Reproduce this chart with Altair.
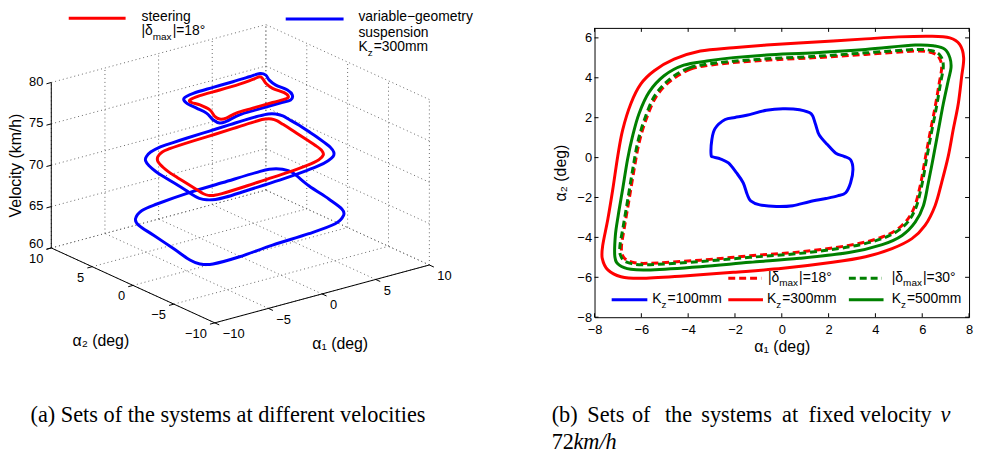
import altair as alt
import pandas as pd

FONT = "Liberation Sans"
SERIF = "Liberation Serif"
RED, BLUE, GREEN = "#ff0000", "#0000ff", "#008000"

# ---------------- values: (alpha1, alpha2) in deg ----------------
# (b) fixed velocity v = 72 km/h
KZ100 = [(-3.02, 0.14), (-2.99, 0.88), (-2.85, 1.46), (-2.42, 1.91), (-2.0, 2.01), (-1.5, 2.12),
         (-0.66, 2.37), (0.05, 2.45), (0.76, 2.4), (1.25, 2.2), (1.43, 1.71), (1.6, 1.13),
         (1.96, 0.64), (2.31, 0.22), (2.66, 0.06), (2.94, -0.11), (3.04, -0.6), (2.94, -1.26),
         (2.73, -1.76), (2.38, -1.92), (1.89, -2.05), (1.18, -2.21), (0.47, -2.41), (-0.23, -2.45),
         (-0.94, -2.37), (-1.33, -2.17), (-1.48, -1.84), (-1.65, -1.26), (-1.93, -0.77),
         (-2.28, -0.27), (-2.63, -0.06), (-2.92, 0.03)]
KZ300 = [(-3.48, 5.34), (-4.6, 4.93), (-5.45, 4.35), (-6.02, 3.69), (-6.45, 2.7), (-6.8, 1.38),
         (-7.01, 0.06), (-7.22, -1.59), (-7.43, -3.08), (-7.65, -4.4), (-7.67, -5.05), (-7.43, -5.63),
         (-6.87, -5.97), (-6.02, -6.05), (-4.19, -5.93), (-2.07, -5.75), (0.05, -5.55), (2.17, -5.25),
         (3.58, -4.97), (4.71, -4.56), (5.56, -4.06), (6.12, -3.4), (6.55, -2.41), (6.83, -1.25),
         (7.11, 0.06), (7.32, 1.38), (7.54, 2.7), (7.68, 4.02), (7.77, 5.0), (7.6, 5.67), (7.18, 6.0),
         (6.4, 6.08), (4.99, 6.05), (3.58, 5.95), (1.46, 5.79), (-0.66, 5.64), (-2.07, 5.51)]
KZ500 = [(-3.2, 4.84), (-4.19, 4.63), (-5.03, 4.1), (-5.67, 3.28), (-6.1, 2.2), (-6.38, 1.05),
         (-6.59, -0.1), (-6.8, -1.59), (-6.99, -2.91), (-7.11, -3.9), (-7.13, -4.98), (-6.94, -5.39),
         (-6.45, -5.6), (-5.6, -5.63), (-3.48, -5.47), (-1.36, -5.25), (0.76, -5.05), (2.87, -4.76),
         (4.29, -4.36), (5.14, -3.9), (5.7, -3.24), (6.05, -2.41), (6.26, -1.26), (6.48, 0.06),
         (6.69, 1.38), (6.9, 2.7), (7.11, 3.85), (7.23, 4.51), (7.18, 5.01), (6.97, 5.42), (6.55, 5.59),
         (5.7, 5.64), (3.58, 5.42), (1.46, 5.26), (-0.66, 5.14), (-2.07, 5.01)]
D18 = [(-3.06, 4.63), (-3.9, 4.43), (-4.75, 3.85), (-5.38, 3.03), (-5.81, 1.87), (-6.1, 0.72),
       (-6.31, -0.6), (-6.52, -2.08), (-6.71, -3.4), (-6.85, -4.47), (-6.77, -4.97), (-6.45, -5.22),
       (-5.74, -5.3), (-3.48, -5.14), (-1.36, -4.92), (0.76, -4.73), (2.87, -4.4), (4.29, -3.98),
       (5.14, -3.4), (5.63, -2.58), (5.91, -1.43), (6.12, -0.1), (6.33, 1.22), (6.55, 2.53),
       (6.72, 3.69), (6.83, 4.51), (6.72, 5.01), (6.4, 5.26), (5.7, 5.34), (3.58, 5.17), (1.46, 5.01),
       (-0.66, 4.88), (-2.07, 4.76)]
D30 = [(-3.08, 4.7), (-3.95, 4.5), (-4.8, 3.92), (-5.44, 3.08), (-5.87, 1.9), (-6.16, 0.74),
       (-6.37, -0.6), (-6.58, -2.1), (-6.77, -3.42), (-6.92, -4.5), (-6.84, -5.03), (-6.5, -5.29),
       (-5.76, -5.37), (-3.5, -5.21), (-1.36, -5.0), (0.78, -4.8), (2.9, -4.47), (4.33, -4.04),
       (5.2, -3.45), (5.69, -2.62), (5.97, -1.45), (6.18, -0.1), (6.39, 1.23), (6.61, 2.55),
       (6.78, 3.72), (6.9, 4.56), (6.79, 5.08), (6.45, 5.34), (5.72, 5.42), (3.6, 5.25), (1.47, 5.08),
       (-0.66, 4.95), (-2.08, 4.83)]
# (a) other velocities (Kz = 300 mm suspension in blue, |delta_max| = 18 deg steering in red)
V65_KZ300 = [(-6.62, 4.13), (-5.18, 5.23), (-3.47, 5.65), (-0.04, 6.1), (3.16, 6.27), (6.37, 6.44),
             (7.57, 6.39), (8.34, 5.79), (8.5, 4.79), (7.78, 1.83), (7.25, -1.3), (6.75, -3.56),
             (6.01, -4.74), (4.46, -5.76), (1.64, -6.23), (-1.96, -6.51), (-5.38, -6.97), (-7.86, -6.98),
             (-8.63, -6.39), (-8.71, -5.27), (-8.21, -2.59), (-7.67, 0.54), (-7.27, 2.88)]
V79_KZ300 = [(-3.17, 2.73), (-1.99, 3.14), (-0.07, 3.24), (1.81, 3.29), (3.42, 3.38), (4.46, 3.45),
             (4.59, 2.9), (4.15, 1.91), (3.9, 0.78), (3.95, -0.58), (3.6, -1.63), (2.87, -2.39),
             (1.78, -2.42), (-0.43, -2.48), (-2.03, -2.57), (-3.65, -3.07), (-4.25, -3.06), (-4.22, -2.2),
             (-3.76, -0.79), (-3.7, 0.5), (-3.65, 1.78)]
V79_D18 = [(-3.04, 2.17), (-1.9, 2.46), (-0.02, 2.49), (1.9, 2.59), (3.27, 2.78), (4.04, 2.9),
           (3.89, 2.3), (3.54, 1.51), (3.29, 0.38), (3.43, -0.86), (3.17, -1.72), (2.71, -2.0),
           (1.48, -2.0), (-0.41, -2.05), (-2.01, -2.13), (-3.23, -2.52), (-3.74, -2.39), (-3.69, -1.71),
           (-3.14, -0.39), (-3.09, 0.89), (-3.27, 1.67)]
VELOCITIES = [65, 72, 79]

X_TICKS = [-8, -6, -4, -2, 0, 2, 4, 6, 8]
Y_TICKS = [-8, -6, -4, -2, 0, 2, 4, 6]
A1_TICKS = [-10, -5, 0, 5, 10]
A2_TICKS = [-10, -5, 0, 5, 10]
V_TICKS = [60, 65, 70, 75, 80]

# ---------------- 3-D view (orthographic projection, pixels per unit) ----------------
E1 = (10.83, 2.92)    # screen step per deg of alpha1
E2 = (-8.25, 3.78)    # screen step per deg of alpha2
E3 = 8.35             # screen step per km/h
V0 = 60


def proj(a1, a2, v):
    return E1[0] * a1 + E2[0] * a2, E1[1] * a1 + E2[1] * a2 + E3 * (v - V0)


WL, HL = 480, 410
PX0, PY0 = 8, 24                 # page position of the left view
OX, OY = 242.5 - PX0, 254.7 - PY0
LX = alt.Scale(domain=[-OX, WL - OX], nice=False, zero=False)
LY = alt.Scale(domain=[OY - HL, OY], nice=False, zero=False)
RW, RH = 378, 292
RPX0, RPY0 = 600, 24             # page position of the right view
RX = alt.Scale(domain=[-8, 8], nice=False, zero=False)
RY = alt.Scale(domain=[-8, 6.5], nice=False, zero=False)

ONE = pd.DataFrame({"k": [0]})
ARIAL = {" ": .278, "|": .26, "δ": .556, "m": .833, "a": .556, "x": .5, "=": .584, "°": .4,
         "K": .667, "z": .5}


def tw(s):
    return sum(ARIAL.get(c, .556) for c in s)


def txt(x, y, s, size=14, font=FONT, align="left", baseline="alphabetic", angle=0, style=None):
    kw = dict(text=s, font=font, fontSize=size, align=align, baseline=baseline, color="black")
    if angle:
        kw["angle"] = angle
    if style:
        kw["fontStyle"] = style
    return alt.Chart(ONE).mark_text(**kw).encode(x=alt.value(x), y=alt.value(y))


def rich(x, y, pieces, size=14):
    out, cx = [], x
    for s, sub in pieces:
        fs = size * 0.72 if sub else size
        out.append(txt(cx, y + (4.5 if sub else 0), s, fs))
        cx += tw(s) * fs + (1.0 if sub else 0.0)
    return out


def sample(x0, x1, y, color, dash=None):
    kw = dict(color=color, strokeWidth=3)
    if dash:
        kw["strokeDash"] = dash
    return alt.Chart(ONE).mark_rule(**kw).encode(x=alt.value(x0), x2=alt.value(x1), y=alt.value(y))


# ---------------- left panel (a) ----------------
def seg(p, q):
    x0, y0 = proj(*p)
    x1, y1 = proj(*q)
    return {"x0": x0, "y0": y0, "x1": x1, "y1": y1}


grid = []
for a in A1_TICKS:
    grid.append(seg((a, 10, 60), (a, 10, 80)))
    grid.append(seg((a, -10, 60), (a, 10, 60)))
for a in A2_TICKS:
    grid.append(seg((10, a, 60), (10, a, 80)))
    grid.append(seg((-10, a, 60), (10, a, 60)))
for v in V_TICKS:
    grid.append(seg((-10, 10, v), (10, 10, v)))
    grid.append(seg((10, -10, v), (10, 10, v)))
axes3 = [seg((-10, 10, 60), (-10, 10, 80)), seg((-10, 10, 60), (-10, -10, 60)),
         seg((-10, -10, 60), (10, -10, 60))]
for v in V_TICKS:
    axes3.append(seg((-10, 10, v), (-10.45, 10, v)))
for a in A2_TICKS:
    axes3.append(seg((-10, a, 60), (-10.45, a, 60)))
for a in A1_TICKS:
    axes3.append(seg((a, -10, 60), (a, -10.55, 60)))


def rules(rows, **kw):
    return alt.Chart(pd.DataFrame(rows)).mark_rule(**kw).encode(
        x=alt.X("x0:Q", scale=LX, axis=None), x2="x1:Q",
        y=alt.Y("y0:Q", scale=LY, axis=None), y2="y1:Q")


def loop3d(pairs, v, color):
    rows = []
    for i, (a, b) in enumerate(pairs):
        px, py = proj(a, b, v)
        rows.append({"i": i, "px": px, "py": py})
    return alt.Chart(pd.DataFrame(rows)).mark_line(
        interpolate="cardinal-closed", color=color, strokeWidth=3).encode(
        x=alt.X("px:Q", scale=LX, axis=None), y=alt.Y("py:Q", scale=LY, axis=None), order="i:Q")


def labels3d(points, texts, **kw):
    rows = []
    for p, t in zip(points, texts):
        px, py = proj(*p)
        rows.append({"px": px, "py": py, "t": t})
    return alt.Chart(pd.DataFrame(rows)).mark_text(font=FONT, fontSize=13, color="black", **kw).encode(
        x=alt.X("px:Q", scale=LX, axis=None), y=alt.Y("py:Q", scale=LY, axis=None), text="t:N")


def fmt(n):
    return str(n).replace("-", "\u2212")


def L(x, y):
    return x - PX0, y - PY0


anchor = alt.Chart(ONE).mark_rect(color="white").encode(
    x=alt.value(0), x2=alt.value(WL), y=alt.value(-16), y2=alt.value(HL))

left_layers = [
    anchor,
    rules(grid, color="#666666", strokeWidth=1, strokeDash=[1, 3]),
    rules(axes3, color="black", strokeWidth=1),
    loop3d(V65_KZ300, VELOCITIES[0], BLUE),
    loop3d(KZ300, VELOCITIES[1], BLUE),
    loop3d(D18, VELOCITIES[1], RED),
    loop3d(V79_KZ300, VELOCITIES[2], BLUE),
    loop3d(V79_D18, VELOCITIES[2], RED),
    labels3d([(-10, 10, v) for v in V_TICKS[1:]], [fmt(v) for v in V_TICKS[1:]],
             align="right", baseline="middle", dx=-8, dy=-0.5),
    labels3d([(-10, 10, V_TICKS[0])], [fmt(V_TICKS[0])],
             align="right", baseline="middle", dx=-8, dy=-3.5),
    labels3d([(-10, a, 60) for a in A2_TICKS], [fmt(a) for a in A2_TICKS],
             align="right", baseline="middle", dx=-8, dy=11),
    labels3d([(a, -10, 60) for a in A1_TICKS], [fmt(a) for a in A1_TICKS],
             align="left", baseline="middle", dx=8, dy=11.5),
    txt(*L(101.7, 340), "α₂ (deg)", 16, align="center", baseline="middle"),
    txt(*L(343.3, 343.3), "α₁ (deg)", 16, align="center", baseline="middle"),
    txt(*L(16, 163), "Velocity (km/h)", 16, align="center", baseline="middle", angle=270),
    sample(L(69.3, 0)[0], L(126.7, 0)[0], L(0, 14.3)[1], RED),
    txt(*L(142.7, 17.0), "steering"),
    *rich(*L(142.7, 31.5), [("|δ", 0), ("max", 1), ("|=18°", 0)]),
    sample(L(288.3, 0)[0], L(346.7, 0)[0], L(0, 15)[1], BLUE),
    txt(*L(361.7, 17.5), "variable\u2212geometry"),
    txt(*L(361.7, 33.2), "suspension"),
    *rich(*L(361.7, 47.8), [("K", 0), ("z", 1), ("=300mm", 0)]),
    txt(*L(30.7, 421.7), "(a) Sets of the systems at different velocities", 22.5, font=SERIF),
]
left = alt.layer(*left_layers).properties(width=WL, height=HL)

# ---------------- right panel (b) ----------------
AX_X = alt.Axis(values=X_TICKS, title="α₁ (deg)", grid=False, domain=False, ticks=False, tickSize=0,
                labelFont=FONT, labelFontSize=13, labelColor="black", labelPadding=6, labelFlush=False,
                labelOverlap=False, titleFont=FONT, titleFontSize=16, titleFontWeight="normal",
                titleColor="black", titlePadding=3)
AX_Y = alt.Axis(values=Y_TICKS, title="α₂ (deg)", grid=False, domain=False, ticks=False, tickSize=0,
                labelFont=FONT, labelFontSize=13, labelColor="black", labelPadding=3, labelFlush=False,
                labelOverlap=False, titleFont=FONT, titleFontSize=16, titleFontWeight="normal",
                titleColor="black", titlePadding=8)


def loop2d(pairs, color, dash=None):
    kw = dict(interpolate="cardinal-closed", color=color, strokeWidth=3)
    if dash:
        kw["strokeDash"] = dash
    df = pd.DataFrame([{"i": i, "a1": a, "a2": b} for i, (a, b) in enumerate(pairs)])
    return alt.Chart(df).mark_line(**kw).encode(
        x=alt.X("a1:Q", scale=RX, axis=AX_X), y=alt.Y("a2:Q", scale=RY, axis=AX_Y), order="i:Q")


xt = pd.DataFrame({"a1": X_TICKS})
yt = pd.DataFrame({"a2": Y_TICKS})
tick_b = alt.Chart(xt).mark_rule(color="black").encode(
    x=alt.X("a1:Q", scale=RX, axis=AX_X), y=alt.value(RH), y2=alt.value(RH - 4))
tick_t = alt.Chart(xt).mark_rule(color="black").encode(
    x=alt.X("a1:Q", scale=RX, axis=AX_X), y=alt.value(0), y2=alt.value(4))
tick_l = alt.Chart(yt).mark_rule(color="black").encode(
    y=alt.Y("a2:Q", scale=RY, axis=AX_Y), x=alt.value(0), x2=alt.value(4))
tick_r = alt.Chart(yt).mark_rule(color="black").encode(
    y=alt.Y("a2:Q", scale=RY, axis=AX_Y), x=alt.value(RW), x2=alt.value(RW - 4))


def R(x, y):
    return x - RPX0, y - RPY0


DASH = [7, 4]
cap_words = ["(b)", "Sets", "of", "the", "systems", "at", "fixed", "velocity"]
cap_x = [556.7, 592.7, 637.7, 671.0, 707.7, 789.3, 816.0, 867.7]

right_layers = [
    loop2d(KZ100, BLUE),
    loop2d(KZ300, RED),
    loop2d(KZ500, GREEN),
    loop2d(D18, RED, DASH),
    loop2d(D30, GREEN, DASH),
    tick_b, tick_t, tick_l, tick_r,
    sample(135, 168.3, 252.7, RED, DASH),
    *rich(175, 256, [("|δ", 0), ("max", 1), ("|=18°", 0)]),
    sample(256.7, 290, 252.7, GREEN, DASH),
    *rich(300, 256, [("|δ", 0), ("max", 1), ("|=30°", 0)]),
    sample(17.3, 53.3, 274.3, BLUE),
    *rich(58.3, 277.7, [("K", 0), ("z", 1), ("=100mm", 0)]),
    sample(135, 170, 274.3, RED),
    *rich(174, 277.7, [("K", 0), ("z", 1), ("=300mm", 0)]),
    sample(256.7, 291.7, 274.3, GREEN),
    *rich(300, 277.7, [("K", 0), ("z", 1), ("=500mm", 0)]),
]
for w, x in zip(cap_words, cap_x):
    right_layers.append(txt(*R(x, 421.7), w, 22.5, font=SERIF))
right_layers.append(txt(*R(949.3, 421.7), "v", 22.5, font=SERIF, style="italic"))
right_layers.append(txt(*R(556.7, 449.3), "72", 22.5, font=SERIF))
right_layers.append(txt(*R(578.7, 449.3), "km/h", 22.5, font=SERIF, style="italic"))

right = alt.layer(*right_layers).properties(
    width=RW, height=RH, view=alt.ViewBackground(stroke="black", strokeWidth=1))

chart = alt.hconcat(left, right, spacing=RPX0 - PX0 - WL, bounds="flush", padding=0).configure_view(
    strokeWidth=0)

chart.save("out.html", embed_options={"renderer": "svg", "actions": False})
